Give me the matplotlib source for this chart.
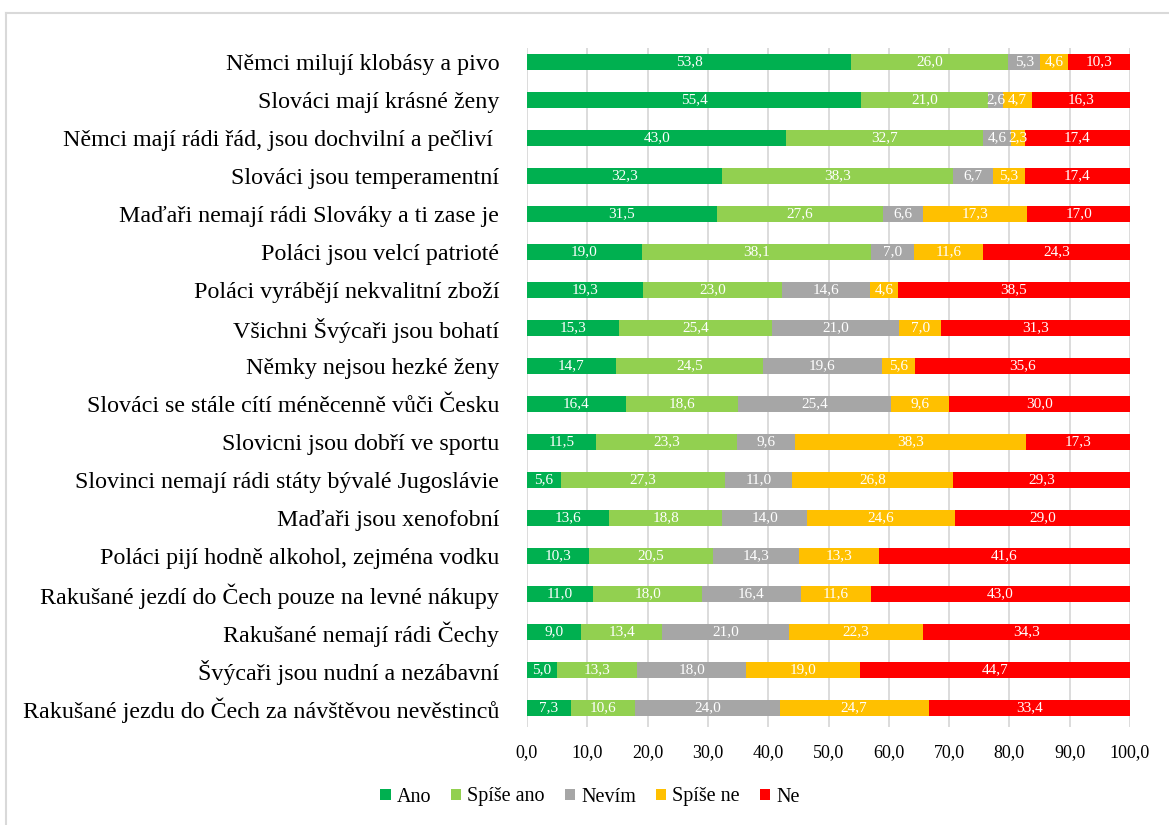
import numpy as np
import matplotlib
matplotlib.use("Agg")
import matplotlib.pyplot as plt
from matplotlib.lines import Line2D

plt.rcParams["font.family"] = ["Liberation Serif", "DejaVu Serif"]

categories = ["Němci milují klobásy a pivo",
              "Slováci mají krásné ženy",
              "Němci mají rádi řád, jsou dochvilní a pečliví ",
              "Slováci jsou temperamentní",
              "Maďaři nemají rádi Slováky a ti zase je",
              "Poláci jsou velcí patrioté",
              "Poláci vyrábějí nekvalitní zboží",
              "Všichni Švýcaři jsou bohatí",
              "Němky nejsou hezké ženy",
              "Slováci se stále cítí méněcenně vůči Česku",
              "Slovicni jsou dobří ve sportu",
              "Slovinci nemají rádi státy bývalé Jugoslávie",
              "Maďaři jsou xenofobní",
              "Poláci pijí hodně alkohol, zejména vodku",
              "Rakušané jezdí do Čech pouze na levné nákupy",
              "Rakušané nemají rádi Čechy",
              "Švýcaři jsou nudní a nezábavní",
              "Rakušané jezdu do Čech za návštěvou nevěstinců"]
series = ["Ano", "Spíše ano", "Nevím", "Spíše ne", "Ne"]
ano =       [53.8, 55.4, 43.0, 32.3, 31.5, 19.0, 19.3, 15.3, 14.7, 16.4, 11.5, 5.6, 13.6, 10.3, 11.0, 9.0, 5.0, 7.3]
spise_ano = [26.0, 21.0, 32.7, 38.3, 27.6, 38.1, 23.0, 25.4, 24.5, 18.6, 23.3, 27.3, 18.8, 20.5, 18.0, 13.4, 13.3, 10.6]
nevim =     [5.3, 2.6, 4.6, 6.7, 6.6, 7.0, 14.6, 21.0, 19.6, 25.4, 9.6, 11.0, 14.0, 14.3, 16.4, 21.0, 18.0, 24.0]
spise_ne =  [4.6, 4.7, 2.3, 5.3, 17.3, 11.6, 4.6, 7.0, 5.6, 9.6, 38.3, 26.8, 24.6, 13.3, 11.6, 22.3, 19.0, 24.7]
ne =        [10.3, 16.3, 17.4, 17.4, 17.0, 24.3, 38.5, 31.3, 35.6, 30.0, 17.3, 29.3, 29.0, 41.6, 43.0, 34.3, 44.7, 33.4]
colors = ["#00B050", "#92D050", "#A6A6A6", "#FFC000", "#FF0000"]

fig = plt.figure(figsize=(11.69, 8.25), dpi=100)
ax = fig.add_axes([527/1169, 1-727/825, (1130-527)/1169, (727-48)/825])
y = np.arange(len(categories))
left = np.zeros(len(categories))
for name, vals, c in zip(series, [ano, spise_ano, nevim, spise_ne, ne], colors):
    vals = np.array(vals)
    bars = ax.barh(y, vals, left=left, height=0.42, color=c, label=name, zorder=3)
    for b, v in zip(bars, vals):
        ax.text(b.get_x() + v/2, b.get_y() + b.get_height()/2, f"{v:.1f}".replace(".", ","),
                ha="center", va="center", color="white", fontsize=11, zorder=4)
    left += vals

ax.set_xlim(0, 100)
ax.set_ylim(17.5, -0.37)
ax.set_xticks(np.arange(0, 101, 10))
ax.set_xticklabels([f"{t:.1f}".replace(".", ",") for t in np.arange(0, 101, 10)], fontsize=13)
ax.set_yticks(y)
ax.set_yticklabels(categories, fontsize=17.3)
ax.tick_params(length=0)
ax.tick_params(axis="y", pad=20)
ax.tick_params(axis="x", pad=12)
ax.grid(axis="x", color="#D9D9D9", lw=1.3, zorder=0)
for s in ax.spines.values():
    s.set_visible(False)

fig.legend(loc="center", bbox_to_anchor=(590/1169, 1-797/825), ncol=5, frameon=False,
           prop={"family": ["Liberation Serif", "DejaVu Serif"], "size": 14.5},
           handlelength=0.5, handleheight=0.5, handletextpad=0.3, columnspacing=1.0)

# outer border
fig.add_artist(Line2D([6/1169, 6/1169], [0, 1-13/825], color="#D9D9D9", lw=1.5))
fig.add_artist(Line2D([6/1169, 1], [1-13/825, 1-13/825], color="#D9D9D9", lw=1.5))

fig.savefig("out.png", dpi=100)
